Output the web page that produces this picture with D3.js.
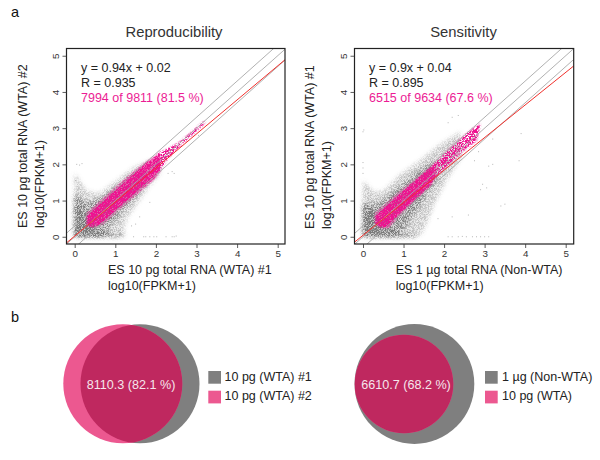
<!DOCTYPE html>
<html>
<head>
<meta charset="utf-8">
<script src="https://cdn.jsdelivr.net/npm/d3@7"></script>
<style>
html,body{margin:0;padding:0;background:#fff}
svg{display:block}
text{font-family:"Liberation Sans",Arial,sans-serif}
</style>
</head>
<body>
<svg id="c" width="600" height="460"></svg>
<script>
// ---- data (log10(FPKM+1) units) ----
const axisTicks = [0, 1, 2, 3, 4, 5];
const axisDomain = [-0.2, 5.2];
const foldOffsets = [-0.3, 0, 0.3];

const titles = ["Reproducibility", "Sensitivity"];
const xLabels = ["ES 10 pg total RNA (WTA) #1", "ES 1 \u00b5g total RNA (Non-WTA)"];
const yLabels = ["ES 10 pg total RNA (WTA) #2", "ES 10 pg total RNA (WTA) #1"];
const unitLabel = "log10(FPKM+1)";
const fitLabels = ["y  = 0.94x + 0.02", "y  = 0.9x + 0.04"];
const rLabels = ["R = 0.935", "R = 0.895"];
const countLabels = ["7994 of 9811 (81.5 %)", "6515 of 9634 (67.6 %)"];
const fitSlopes = [0.94, 0.9];
const fitIntercepts = [0.02, 0.04];

// density envelopes of the two scatter clouds
const grayOuterA = [[0,1.75],[0.3,1.25],[0.62,1.2],[1.03,1.55],[1.44,1.9],[1.8,2.08],[2.1,2.2],[2.1,1.75],[1.8,1.35],[1.5,0.85],[1.3,0.55],[1.2,0.2],[1.25,0],[0,0]];
const grayInnerA = [[0,1.1],[0.3,0.95],[0.55,1.0],[0.95,1.3],[1.35,1.65],[1.7,1.9],[1.75,1.5],[1.45,1.05],[1.15,0.7],[0.95,0.4],[0.8,0.18],[0.85,0.04],[0,0.02]];
const grayCoreA = [[0,0.85],[0.2,0.65],[0.35,0.55],[0.45,0.22],[0.7,0.1],[0.7,0.02],[0,0]];
const axisStripsA = [[[0,1.15],[0.04,1.15],[0.04,0],[0,0]],[[0,0.05],[1.15,0.05],[1.15,0],[0,0]]];
const pinkA = [[0.3,0.62],[0.55,0.88],[0.9,1.23],[1.3,1.63],[1.75,2.05],[2.1,2.3],[2.1,1.82],[1.95,1.6],[1.5,1.17],[1.0,0.69],[0.7,0.37],[0.45,0.27],[0.3,0.32]];
const pinkTailA = [[2.05,2.3],[2.35,2.45],[2.6,2.62],[3.2,3.2],[3.2,3.14],[2.6,2.52],[2.3,2.18],[2.05,1.78]];

const grayOuterB = [[0,1.55],[0.25,1.25],[0.5,1.25],[0.9,1.7],[1.4,2.1],[1.9,2.55],[2.4,2.9],[2.45,2.25],[2.05,1.55],[1.75,0.9],[1.6,0.45],[1.45,0.1],[1.3,0],[0,0]];
const grayInnerB = [[0,0.95],[0.3,0.9],[0.55,1.05],[0.9,1.4],[1.35,1.8],[1.75,2.1],[1.85,1.6],[1.55,1.1],[1.3,0.7],[1.1,0.35],[0.9,0.06],[0,0.02]];
const grayCoreB = [[0,0.82],[0.28,0.7],[0.4,0.3],[0.8,0.14],[0.85,0.03],[0,0]];
const axisStripsB = [[[0,0.9],[0.03,0.9],[0.03,0],[0,0]],[[0,0.05],[1.3,0.05],[1.3,0],[0,0]]];
const pinkB = [[0.3,0.62],[0.91,1.22],[1.57,1.82],[1.75,2.0],[1.8,1.68],[1.65,1.4],[1.24,0.99],[0.83,0.53],[0.62,0.26],[0.42,0.26],[0.3,0.39]];
const pinkTailB = [[1.72,1.98],[2.06,2.34],[2.56,2.85],[2.89,3.12],[2.8,2.66],[2.39,2.3],[1.95,1.82],[1.78,1.66]];

// isolated points read one by one
const straysA = [[0.05,2.0],[0.12,1.98],[0.18,2.02],[0.02,1.55],[0.08,1.62],[1.45,0],[1.7,0],[1.75,0],[1.85,0],[1.95,0],[2.02,0],[2.25,0],[2.4,0],[2.45,0],[2.5,0.02],[2.3,1.75],[2.4,1.8],[2.45,1.75],[1.85,0.95],[1.6,0.55],[1.5,0.35],[1.4,0.3],[3.05,2.8]];
const straysB = [[0,2.9],[0.02,2.95],[0,2.05],[0,1.9],[0,1.75],[2.1,0],[2.2,0],[2.35,0],[2.45,0.01],[2.55,0],[2.7,0],[2.8,0],[2.9,0],[3.0,0],[3.1,0],[2.95,1.45],[2.9,1.3],[3.05,1.35],[3.1,1.95],[3.2,2.0],[3.9,2.85],[3.85,2.1],[3.4,0.85],[3.5,0.9],[2.2,3.3],[2.35,3.35],[2.1,3.15],[2.75,2.1],[2.85,2.35],[3.2,2.7],[2.6,0.6],[1.85,0.5],[2.2,0.55]];

const vennValues = ["8110.3 (82.1 %)", "6610.7 (68.2 %)"];
const legendA = ["10 pg (WTA) #1", "10 pg (WTA) #2"];
const legendB = ["1 \u00b5g (Non-WTA)", "10 pg (WTA)"];

// ---- drawing ----
const svg = d3.select("#c");
const defs = svg.append("defs");

// visual grain only: the envelopes above set where the ink goes
function stipple(id, color, seed, blur, k1, k2) {
  const f = defs.append("filter").attr("id", id)
    .attr("filterUnits", "userSpaceOnUse")
    .attr("x", 0).attr("y", 0).attr("width", 600).attr("height", 460)
    .attr("color-interpolation-filters", "sRGB");
  f.append("feGaussianBlur").attr("in", "SourceAlpha").attr("stdDeviation", blur).attr("result", "soft");
  f.append("feTurbulence").attr("type", "fractalNoise").attr("baseFrequency", 1.3)
    .attr("numOctaves", 2).attr("seed", seed).attr("result", "grain");
  f.append("feColorMatrix").attr("in", "grain").attr("type", "matrix")
    .attr("values", "0 0 0 0 0 0 0 0 0 0 0 0 0 0 0 4 0 0 0 -1.5").attr("result", "grainA");
  f.append("feComposite").attr("in", "soft").attr("in2", "grainA").attr("operator", "arithmetic")
    .attr("k1", k1).attr("k2", k2).attr("k3", 0).attr("k4", 0).attr("result", "dots");
  f.append("feFlood").attr("flood-color", color).attr("result", "ink");
  f.append("feComposite").attr("in", "ink").attr("in2", "dots").attr("operator", "in");
}
stipple("grainGray", "#7a7a7a", 4, 2.0, 1.1, 0.45);
stipple("grainPink", "#ee1290", 9, 0.9, 0.9, 0.6);
stipple("grainTail", "#ee1290", 12, 1.0, 2.2, 0);

const panels = [
  {i: 0, left: 66.5, right: 285, x0: 74.7, x5: 277.7, layers: [grayOuterA, grayInnerA, grayCoreA, ...axisStripsA], pink: pinkA, tail: pinkTailA, strays: straysA, grayAlpha: [0.3, 0.45, 0.75, 1, 1], tailAlpha: 0.85,
   titleX: 174, xLabelX: 108, yLabelX: [27, 44], yStart: 228},
  {i: 1, left: 354.5, right: 573.7, x0: 363, x5: 565.7, layers: [grayOuterB, grayInnerB, grayCoreB, ...axisStripsB], pink: pinkB, tail: pinkTailB, strays: straysB, grayAlpha: [0.3, 0.45, 0.75, 1, 1], tailAlpha: 0.7,
   titleX: 463.5, xLabelX: 395.7, yLabelX: [314, 331], yStart: 229}
];
const top_ = 48.5, bottom = 244;
const yScale = d3.scaleLinear().domain(axisDomain).range([244, 48.5]);

panels.forEach(p => {
  const pxPerUnit = (p.x5 - p.x0) / 5;
  const xScale = d3.scaleLinear().domain(axisDomain).range([p.x0 - 0.2 * pxPerUnit, p.x5 + 0.2 * pxPerUnit]);
  const g = svg.append("g");
  const clipId = "clip" + p.i;
  defs.append("clipPath").attr("id", clipId).append("rect")
    .attr("x", p.left).attr("y", top_).attr("width", p.right - p.left).attr("height", bottom - top_);
  const plot = g.append("g").attr("clip-path", `url(#${clipId})`);
  const line = d3.line().x(d => xScale(d[0])).y(d => yScale(d[1])).curve(d3.curveLinearClosed);

  const grayG = plot.append("g").attr("filter", "url(#grainGray)");
  p.layers.forEach((poly, k) => grayG.append("path").attr("d", line(poly)).attr("fill", "#000").attr("fill-opacity", p.grayAlpha[k]));
  plot.append("g").selectAll("rect").data(p.strays).join("rect")
    .attr("x", d => xScale(d[0]) - 0.5).attr("y", d => yScale(d[1]) - 0.5)
    .attr("width", 1).attr("height", 1).attr("fill", "#9a9a9a").attr("fill-opacity", 0.7);
  plot.append("path").attr("d", line(p.tail)).attr("fill", "#000").attr("fill-opacity", p.tailAlpha).attr("filter", "url(#grainTail)");
  plot.append("path").attr("d", line(p.pink)).attr("fill", "#000").attr("filter", "url(#grainPink)");

  foldOffsets.forEach(o => {
    plot.append("line")
      .attr("x1", xScale(-0.2)).attr("y1", yScale(-0.2 + o))
      .attr("x2", xScale(5.2)).attr("y2", yScale(5.2 + o))
      .attr("stroke", "#a8a8a8").attr("stroke-width", 0.9);
  });
  const s = fitSlopes[p.i], b = fitIntercepts[p.i];
  plot.append("line")
    .attr("x1", xScale(-0.2)).attr("y1", yScale(-0.2 * s + b))
    .attr("x2", xScale(5.2)).attr("y2", yScale(5.2 * s + b))
    .attr("stroke", "#f0302c").attr("stroke-width", 1);

  g.append("rect").attr("x", p.left).attr("y", top_).attr("width", p.right - p.left).attr("height", bottom - top_)
    .attr("fill", "none").attr("stroke", "#222").attr("stroke-width", 1.2);

  const ax = g.append("g").attr("transform", `translate(0,${bottom})`)
    .call(d3.axisBottom(xScale).tickValues(axisTicks).tickSize(4).tickPadding(2).tickFormat(d3.format("d")));
  ax.select(".domain").remove();
  ax.selectAll("text").attr("font-size", 9.8).attr("fill", "#333").attr("font-family", "Liberation Sans");
  ax.selectAll("line").attr("stroke", "#333").attr("stroke-width", 0.8);

  const ay = g.append("g").attr("transform", `translate(${p.left},0)`)
    .call(d3.axisLeft(yScale).tickValues(axisTicks).tickSize(4).tickFormat(d3.format("d")));
  ay.select(".domain").remove();
  ay.selectAll("line").attr("stroke", "#333").attr("stroke-width", 0.8);
  ay.selectAll("text").attr("font-size", 9.8).attr("fill", "#333").attr("font-family", "Liberation Sans")
    .attr("text-anchor", "middle").attr("dy", null).attr("x", 0)
    .attr("transform", "translate(-7.5,0) rotate(-90)");

  const txt = (x, y, s, size, fill, anchor) => g.append("text").attr("x", x).attr("y", y).text(s)
    .attr("font-size", size).attr("fill", fill).attr("text-anchor", anchor || "start");
  txt(p.titleX, 37, titles[p.i], 14.8, "#333", "middle");
  txt(p.left + 14.5, 72, fitLabels[p.i], 12.5, "#222");
  txt(p.left + 14.5, 87, rLabels[p.i], 12.5, "#222");
  txt(p.left + 14.5, 101.5, countLabels[p.i], 12.5, "#ec1c94");
  txt(p.xLabelX, 274, xLabels[p.i], 12.5, "#222");
  txt(p.xLabelX, 289.5, unitLabel, 12.5, "#222");
  g.append("text").text(yLabels[p.i]).attr("font-size", 12.5).attr("fill", "#222")
    .attr("transform", `translate(${p.yLabelX[0]},${p.yStart}) rotate(-90)`);
  g.append("text").text(unitLabel).attr("font-size", 12.5).attr("fill", "#222")
    .attr("transform", `translate(${p.yLabelX[1]},${p.yStart}) rotate(-90)`);
});

svg.append("text").attr("x", 11).attr("y", 17).text("a").attr("font-size", 14.5).attr("fill", "#111");
svg.append("text").attr("x", 11).attr("y", 322).text("b").attr("font-size", 14.5).attr("fill", "#111");

// ---- Venn diagrams ----
const vennA = {gray: [140, 383.8, 59.5], pink: [122.8, 383.8, 59.5], label: vennValues[0], labelX: 131, legend: legendA, sq: 208.3, tx: 224.5};
const vennB = {gray: [414.4, 384, 59.9], pink: [404, 384, 49.3], label: vennValues[1], labelX: 406, legend: legendB, sq: 485, tx: 502};
const vennColor = d3.scaleOrdinal().domain(["gray", "pink", "both"]).range(["#7f7f7f", "#ec5890", "#bf285f"]);

[vennA, vennB].forEach((v, i) => {
  const g = svg.append("g");
  g.append("circle").attr("cx", v.gray[0]).attr("cy", v.gray[1]).attr("r", v.gray[2]).attr("fill", vennColor("gray"));
  g.append("circle").attr("cx", v.pink[0]).attr("cy", v.pink[1]).attr("r", v.pink[2]).attr("fill", vennColor("pink"));
  const id = "venn" + i;
  defs.append("clipPath").attr("id", id).append("circle").attr("cx", v.gray[0]).attr("cy", v.gray[1]).attr("r", v.gray[2]);
  g.append("circle").attr("cx", v.pink[0]).attr("cy", v.pink[1]).attr("r", v.pink[2])
    .attr("fill", vennColor("both")).attr("clip-path", `url(#${id})`);
  g.append("text").attr("x", v.labelX).attr("y", 389).attr("text-anchor", "middle")
    .attr("font-size", 12.6).attr("fill", "#f6e6ec").text(v.label);
  v.legend.forEach((s, k) => {
    g.append("rect").attr("x", v.sq).attr("y", 371 + k * 19.7).attr("width", 12.7).attr("height", 12.7)
      .attr("fill", k === 0 ? vennColor("gray") : vennColor("pink"));
    g.append("text").attr("x", v.tx).attr("y", 381 + k * 19).attr("font-size", 12.5).attr("fill", "#222").text(s);
  });
});
</script>
</body>
</html>
